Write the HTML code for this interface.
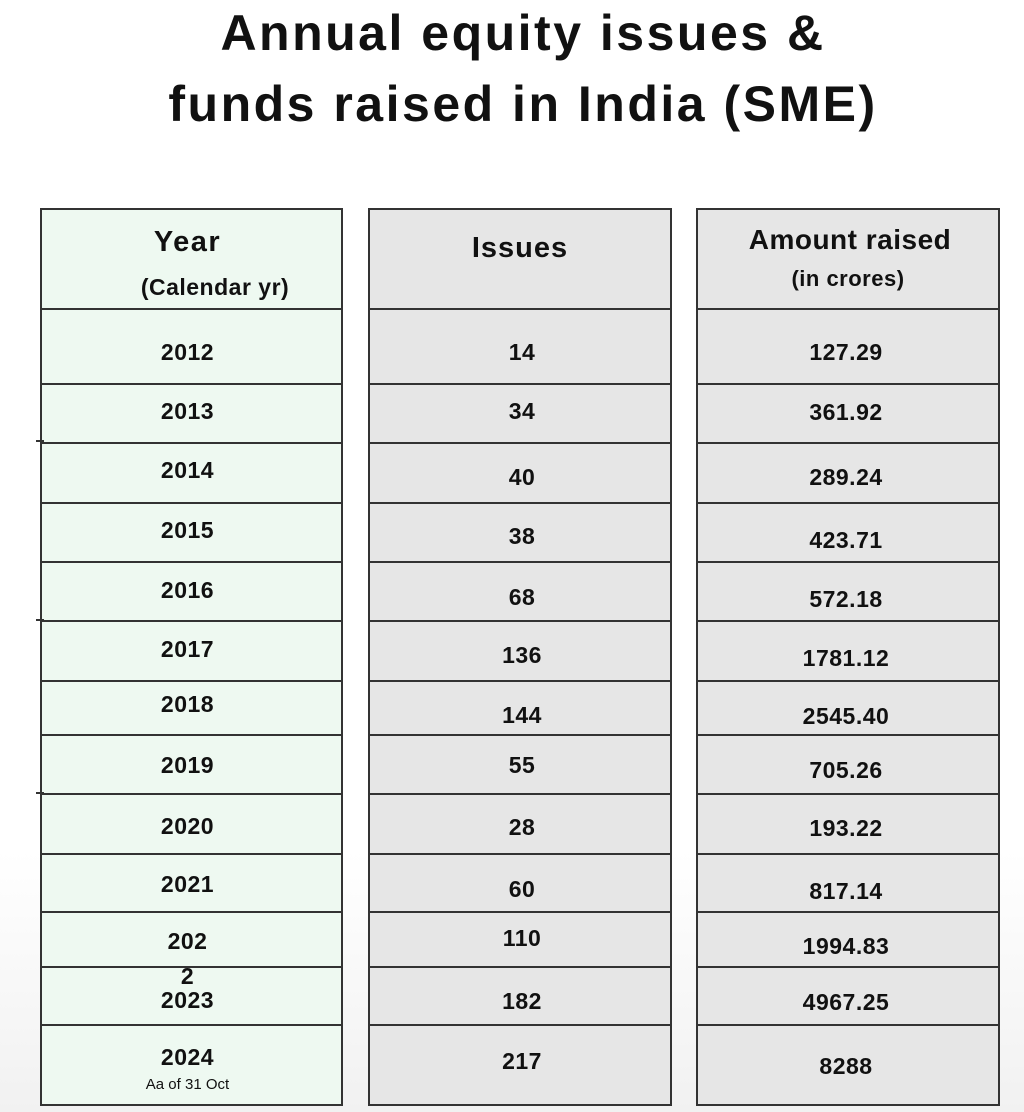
<!DOCTYPE html>
<html><head><meta charset="utf-8"><style>
body{margin:0;width:1024px;height:1112px;background:linear-gradient(#fff 0,#fff 850px,#f1f1f1 1112px);font-family:"Liberation Sans",sans-serif;position:relative;overflow:hidden;color:#111}
.t{position:absolute;left:0;width:1046px;text-align:center;font-weight:bold;font-size:50px;letter-spacing:2.5px;line-height:60px}
.col{position:absolute;top:208px;height:898px;border:2px solid #333;box-sizing:border-box}
.h{position:absolute;height:2px;background:#333}
.x{position:absolute;height:30px;line-height:30px;text-align:center;font-size:23px;font-weight:bold;margin-top:-15px;letter-spacing:0.5px}
</style></head><body>
<div class="t" style="top:3px">Annual equity issues &amp;</div>
<div class="t" style="top:74px">funds raised in India (SME)</div>
<div class="col" style="left:40px;width:303px;background:#eef9f1"></div>
<div class="col" style="left:368px;width:304px;background:#e6e6e6"></div>
<div class="col" style="left:696px;width:304px;background:#e6e6e6"></div>
<div id="lines"></div>
<div class="x" style="left:40px;width:295px;top:242px;font-size:29px;letter-spacing:1.5px">Year</div>
<div class="x" style="left:118px;width:194px;top:287px;font-size:23px">(Calendar yr)</div>
<div class="x" style="left:368px;width:304px;top:248px;font-size:29px;letter-spacing:1px">Issues</div>
<div class="x" style="left:696px;width:308px;top:240px;font-size:28px">Amount raised</div>
<div class="x" style="left:696px;width:304px;top:279px;font-size:22px">(in crores)</div>
<script>
var L=[309,384,443,503,562,621,681,735,794,854,912,967,1025];
var h='';L.forEach(function(y){[[40,303],[368,304],[696,304]].forEach(function(c){h+='<div class="h" style="left:'+c[0]+'px;width:'+c[1]+'px;top:'+(y-1)+'px"></div>'})});
var c1=[[352,'2012'],[411,'2013'],[470,'2014'],[530,'2015'],[590,'2016'],[649,'2017'],[704,'2018'],[765,'2019'],[826,'2020'],[884,'2021'],[941,'202'],[976,'2'],[1000,'2023'],[1057,'2024']];
var c2=[[352,'14'],[411,'34'],[477,'40'],[536,'38'],[597,'68'],[655,'136'],[715,'144'],[765,'55'],[827,'28'],[889,'60'],[938,'110'],[1001,'182'],[1061,'217']];
var c3=[[352,'127.29'],[412,'361.92'],[477,'289.24'],[540,'423.71'],[599,'572.18'],[658,'1781.12'],[716,'2545.40'],[770,'705.26'],[828,'193.22'],[891,'817.14'],[946,'1994.83'],[1002,'4967.25'],[1066,'8288']];
c1.forEach(function(a){h+='<div class="x" style="left:40px;width:295px;top:'+a[0]+'px">'+a[1]+'</div>'});
c2.forEach(function(a){h+='<div class="x" style="left:368px;width:308px;top:'+a[0]+'px">'+a[1]+'</div>'});
c3.forEach(function(a){h+='<div class="x" style="left:696px;width:300px;top:'+a[0]+'px">'+a[1]+'</div>'});
h+='<div class="x" style="left:40px;width:295px;top:1085px;font-size:15px;font-weight:normal;letter-spacing:0">Aa of 31 Oct</div>';
h+='<div class="h" style="left:36px;width:8px;top:440px"></div><div class="h" style="left:36px;width:8px;top:619px"></div><div class="h" style="left:36px;width:8px;top:792px"></div>';
document.getElementById('lines').innerHTML=h;
</script>
</body></html>
